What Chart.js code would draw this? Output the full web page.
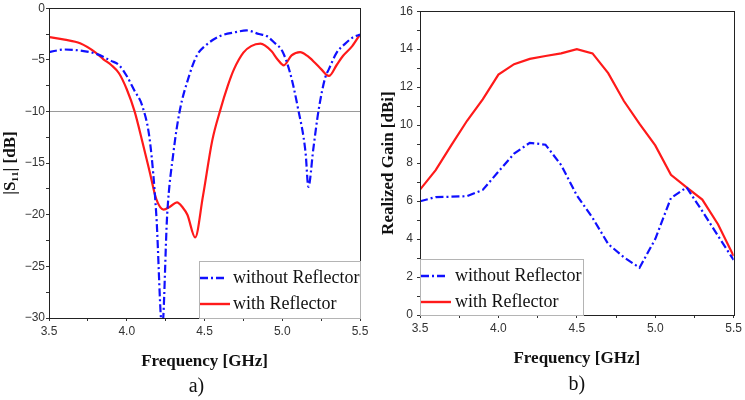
<!DOCTYPE html>
<html>
<head>
<meta charset="utf-8">
<title>S11 and realized gain</title>
<script src="https://cdn.jsdelivr.net/npm/chart.js@4.4.0/dist/chart.umd.min.js"></script>
<style>
    html, body { margin: 0; padding: 0; background: #fff; }
    body { width: 745px; height: 400px; position: relative; overflow: hidden; }
    .panel { position: absolute; top: 0; height: 400px; }
    #panelA { left: 0; width: 372px; }
    #panelB { left: 375px; width: 370px; }
</style>
</head>
<body>
<div class="panel" id="panelA"><canvas id="chartA"></canvas></div>
<div class="panel" id="panelB"><canvas id="chartB"></canvas></div>
<script>
// Series names, shared by both panels.
var seriesLabels = ['without Reflector', 'with Reflector'];

// a) |S11| in dB.
var s11FreqWithout = [3.5, 3.6, 3.7, 3.8, 3.9, 3.95, 4.0, 4.05, 4.1, 4.15, 4.19, 4.228, 4.26, 4.3, 4.34,
    4.4, 4.45, 4.5, 4.6, 4.7, 4.77, 4.85, 4.9, 4.95, 5.0, 5.05, 5.1, 5.15, 5.168, 5.2, 5.233, 5.276,
    5.3, 5.35, 5.4, 5.45, 5.5];
var s11Without = [-4.25, -4.0, -4.1, -4.4, -5.1, -5.5, -6.56, -8.0, -9.46, -13.0, -20.0, -31.0, -20.0, -14.0, -10.0,
    -6.6, -4.6, -3.7, -2.7, -2.32, -2.15, -2.5, -2.7, -3.35, -4.15, -6.24, -9.6, -14.0, -17.3, -13.6, -9.94, -6.73,
    -5.9, -4.3, -3.5, -2.87, -2.55];
var s11FreqWith = [3.5, 3.6, 3.7, 3.8, 3.85, 3.9, 3.95, 4.0, 4.05, 4.1, 4.15, 4.19, 4.237, 4.28, 4.323,
    4.36, 4.39, 4.44, 4.49, 4.55, 4.6, 4.65, 4.69, 4.75, 4.8, 4.86, 4.93, 4.97, 5.01, 5.06, 5.115,
    5.16, 5.21, 5.25, 5.3, 5.35, 5.39, 5.45, 5.5];
var s11With = [-2.8, -3.05, -3.4, -4.3, -4.95, -5.5, -6.3, -7.85, -9.97, -12.9, -16.0, -18.5, -19.5, -19.2, -18.8,
    -19.3, -20.0, -22.2, -18.2, -12.8, -9.94, -7.5, -5.9, -4.3, -3.67, -3.44, -4.15, -4.96, -5.53, -4.57, -4.25,
    -4.6, -5.28, -5.9, -6.56, -5.5, -4.63, -3.67, -2.54];
var s11Threshold = -10;

// b) realized gain in dBi.
var gainFreq = [3.5, 3.6, 3.7, 3.8, 3.9, 4.0, 4.1, 4.2, 4.3, 4.4, 4.5, 4.6, 4.7, 4.8, 4.9, 5.0, 5.1, 5.2, 5.3, 5.4, 5.5];
var gainWithout = [5.99, 6.21, 6.23, 6.26, 6.59, 7.55, 8.5, 9.07, 8.97, 7.9, 6.3, 5.12, 3.74, 3.04, 2.49, 4.0,
    6.16, 6.72, 5.47, 4.17, 2.9];
var gainWith = [6.6, 7.63, 8.95, 10.23, 11.36, 12.66, 13.21, 13.49, 13.64, 13.78, 14.0, 13.78, 12.74, 11.27,
    10.06, 8.93, 7.38, 6.72, 6.08, 4.78, 3.1];

(function () {

    var BLUE = '#1010ff';
    var RED = '#ff1a1a';
    var DASH_DOT = [8, 3, 2, 3];
    var SERIF = '"Liberation Serif", "Times New Roman", serif';
    var SANS = '"Liberation Sans", Arial, sans-serif';

    /**
     * Pairs an x array with a y array into {x, y} points.
     */
    var toPoints = function (xs, ys) {
        var i, out = [];
        for (i = 0; i < xs.length; i++) {
            out.push({ x: xs[i], y: ys[i] });
        }
        return out;
    };

    /**
     * Formats a tick label with a true minus sign, or '' for the minor ticks.
     */
    var majorLabel = function (every, digits) {
        return function (value) {
            var k = value / every;
            if (Math.abs(k - Math.round(k)) > 1e-6) {
                return '';
            }
            var text = Math.abs(value).toFixed(digits);
            return value < 0 ? '\u2212' + text : text;
        };
    };

    // Box round the plot area.
    var framePlugin = {
        id: 'frame',
        afterDatasetsDraw: function (chart) {
            var a = chart.chartArea, ctx = chart.ctx;
            ctx.save();
            ctx.strokeStyle = '#222';
            ctx.lineWidth = 1;
            ctx.strokeRect(Math.round(a.left) + 0.5, Math.round(a.top) + 0.5,
                Math.round(a.right - a.left), Math.round(a.bottom - a.top));
            ctx.restore();
        }
    };

    // Thin grey reference line (the -10 dB level).
    var refLinePlugin = {
        id: 'refLine',
        beforeDatasetsDraw: function (chart, args, opts) {
            if (opts.value === undefined) {
                return;
            }
            var a = chart.chartArea, ctx = chart.ctx;
            var y = Math.round(chart.scales.y.getPixelForValue(opts.value)) + 0.5;
            ctx.save();
            ctx.strokeStyle = '#9a9a9a';
            ctx.lineWidth = 1;
            ctx.beginPath();
            ctx.moveTo(a.left, y);
            ctx.lineTo(a.right, y);
            ctx.stroke();
            ctx.restore();
        }
    };

    // Boxed legend sitting in a corner of the plot area.
    var boxLegendPlugin = {
        id: 'boxLegend',
        afterDraw: function (chart, args, opts) {
            var a = chart.chartArea, ctx = chart.ctx;
            var left = opts.side === 'right' ? a.right - opts.width : a.left;
            var top = a.bottom - opts.height;
            var i, ds, y;

            ctx.save();
            ctx.fillStyle = '#fff';
            ctx.fillRect(left, top, opts.width, opts.height);
            ctx.strokeStyle = '#b4b4b4';
            ctx.lineWidth = 1;
            ctx.strokeRect(Math.round(left) + 0.5, Math.round(top) + 0.5,
                Math.round(opts.width), Math.round(opts.height));

            ctx.font = '18px ' + SERIF;
            ctx.textBaseline = 'middle';
            ctx.fillStyle = '#111';
            for (i = 0; i < chart.data.datasets.length; i++) {
                ds = chart.data.datasets[i];
                y = top + opts.rows[i];
                ctx.strokeStyle = ds.borderColor;
                ctx.lineWidth = 2.4;
                ctx.setLineDash(ds.borderDash || []);
                ctx.beginPath();
                ctx.moveTo(left + 1, y);
                ctx.lineTo(left + opts.sample[i], y);
                ctx.stroke();
                ctx.setLineDash([]);
                ctx.fillText(ds.label, left + opts.textX, y);
            }
            ctx.restore();
        }
    };

    // Panel caption under the axis title.
    var captionPlugin = {
        id: 'caption',
        afterDraw: function (chart, args, opts) {
            var a = chart.chartArea, ctx = chart.ctx;
            ctx.save();
            ctx.font = '20px ' + SERIF;
            ctx.fillStyle = '#111';
            ctx.textAlign = 'center';
            ctx.textBaseline = 'middle';
            ctx.fillText(opts.text, (a.left + a.right) / 2 + opts.dx, opts.y);
            ctx.restore();
        }
    };

    /**
     * Builds one panel.
     *
     * @param {string} canvasId
     * @param {Object} cfg panel settings (datasets, axis ranges, layout)
     */
    var renderPanel = function (canvasId, cfg) {
        var ctx = document.getElementById(canvasId).getContext('2d');

        return new Chart(ctx, {
            type: 'line',
            data: { datasets: cfg.datasets },
            plugins: [refLinePlugin, framePlugin, boxLegendPlugin, captionPlugin],
            options: {
                responsive: true,
                maintainAspectRatio: false,
                animation: false,
                events: [],
                layout: { padding: cfg.padding },
                elements: { point: { radius: 0 } },
                plugins: {
                    legend: { display: false },
                    tooltip: { enabled: false },
                    refLine: { value: cfg.refValue },
                    boxLegend: cfg.legend,
                    caption: cfg.caption
                },
                scales: {
                    x: {
                        type: 'linear',
                        min: 3.5,
                        max: 5.5,
                        afterFit: function (scale) { scale.height = cfg.xHeight; },
                        ticks: {
                            stepSize: 0.25,
                            autoSkip: false,
                            maxRotation: 0,
                            padding: 3,
                            color: '#333',
                            font: { family: SANS, size: 12 },
                            callback: majorLabel(0.5, 1)
                        },
                        grid: { drawOnChartArea: false, tickLength: 3, color: '#333' },
                        border: { display: false },
                        title: {
                            display: true,
                            text: 'Frequency [GHz]',
                            color: '#111',
                            font: { family: SERIF, size: 17, weight: 'bold' },
                            padding: { top: 0, bottom: cfg.xTitlePad }
                        }
                    },
                    y: {
                        min: cfg.yMin,
                        max: cfg.yMax,
                        afterFit: function (scale) { scale.width = cfg.yWidth; },
                        ticks: {
                            stepSize: cfg.yStep,
                            autoSkip: false,
                            padding: cfg.yTickPad,
                            color: '#333',
                            font: { family: SANS, size: 12 },
                            callback: majorLabel(cfg.yStep * 2, 0)
                        },
                        grid: { drawOnChartArea: false, tickLength: 3, color: '#333' },
                        border: { display: false },
                        title: {
                            display: true,
                            text: cfg.yTitle,
                            color: '#111',
                            font: { family: SERIF, size: 17, weight: 'bold' },
                            padding: { top: cfg.yTitlePad, bottom: 0 }
                        }
                    }
                }
            }
        });
    };

    renderPanel('chartA', {
        datasets: [
            {
                label: seriesLabels[0],
                data: toPoints(s11FreqWithout, s11Without),
                borderColor: BLUE,
                borderWidth: 2.2,
                borderDash: DASH_DOT,
                cubicInterpolationMode: 'monotone',
                clip: 0
            },
            {
                label: seriesLabels[1],
                data: toPoints(s11FreqWith, s11With),
                borderColor: RED,
                borderWidth: 2.2,
                cubicInterpolationMode: 'monotone',
                clip: 0
            }
        ],
        padding: { left: 0, right: 12, top: 7, bottom: 0 },
        xHeight: 82,
        xTitlePad: 28,
        yWidth: 49,
        yTitlePad: 0,
        yTickPad: 1,
        yMin: -30,
        yMax: 0,
        yStep: 2.5,
        yTitle: '|S\u2081\u2081| [dB]',
        refValue: s11Threshold,
        legend: { side: 'right', width: 161, height: 57, rows: [17, 43], sample: [27, 31], textX: 34 },
        caption: { text: 'a)', dx: -8, y: 387 }
    });

    renderPanel('chartB', {
        datasets: [
            {
                label: seriesLabels[0],
                data: toPoints(gainFreq, gainWithout),
                borderColor: BLUE,
                borderWidth: 2.2,
                borderDash: DASH_DOT,
                tension: 0,
                clip: 0
            },
            {
                label: seriesLabels[1],
                data: toPoints(gainFreq, gainWith),
                borderColor: RED,
                borderWidth: 2.2,
                tension: 0,
                clip: 0
            }
        ],
        padding: { left: 0, right: 9, top: 7, bottom: 0 },
        xHeight: 85,
        xTitlePad: 31,
        yWidth: 45,
        yTitlePad: 3,
        yTickPad: 4,
        yMin: 0,
        yMax: 16,
        yStep: 1,
        yTitle: 'Realized Gain [dBi]',
        legend: { side: 'left', width: 163, height: 56, rows: [17, 43], sample: [27, 31], textX: 35 },
        caption: { text: 'b)', dx: 0, y: 385 }
    });

})();
</script>
</body>
</html>
